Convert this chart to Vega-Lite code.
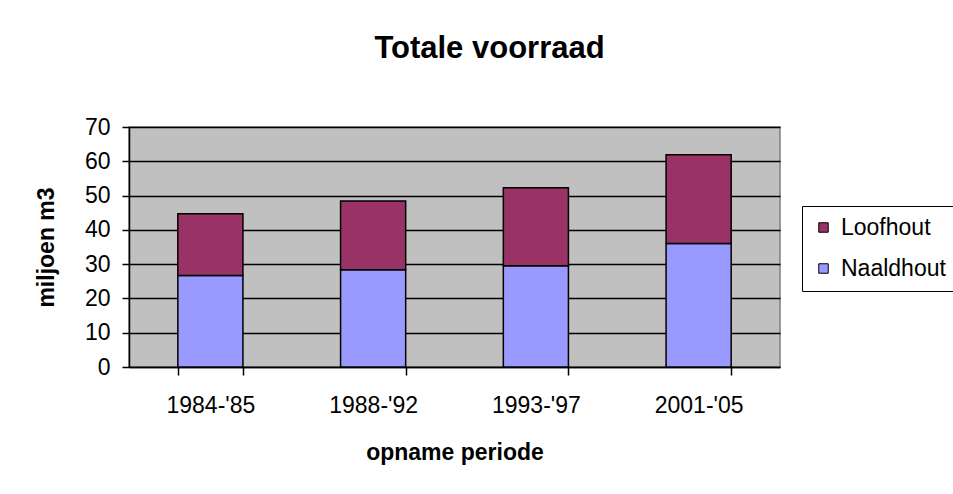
{
  "$schema": "https://vega.github.io/schema/vega-lite/v6.json",
  "autosize": "none",
  "width": 651,
  "height": 240,
  "padding": {"left": 129, "top": 127, "right": 173, "bottom": 127},
  "background": "white",
  "title": {
    "text": "Totale voorraad",
    "font": "Liberation Sans",
    "fontSize": 31,
    "fontWeight": "bold",
    "color": "black",
    "anchor": "middle",
    "frame": "group",
    "dx": 35,
    "offset": 51
  },
  "data": {
    "values": [
      {"periode": "1984-'85", "soort": "Naaldhout", "waarde": 26.7},
      {"periode": "1984-'85", "soort": "Loofhout", "waarde": 18.0},
      {"periode": "1988-'92", "soort": "Naaldhout", "waarde": 28.4},
      {"periode": "1988-'92", "soort": "Loofhout", "waarde": 20.0},
      {"periode": "1993-'97", "soort": "Naaldhout", "waarde": 29.5},
      {"periode": "1993-'97", "soort": "Loofhout", "waarde": 22.8},
      {"periode": "2001-'05", "soort": "Naaldhout", "waarde": 36.0},
      {"periode": "2001-'05", "soort": "Loofhout", "waarde": 25.9}
    ]
  },
  "mark": {"type": "bar", "stroke": "black", "strokeWidth": 1.5},
  "encoding": {
    "x": {
      "field": "periode",
      "type": "nominal",
      "sort": null,
      "scale": {"paddingInner": 0.6, "paddingOuter": 0.3},
      "axis": {
        "title": "opname periode",
        "labelAngle": 0,
        "tickBand": "extent",
        "tickSize": 8,
        "tickColor": "black",
        "tickWidth": 1.5,
        "domainColor": "black",
        "domainWidth": 1.5,
        "labelFont": "Liberation Sans",
        "labelFontSize": 23,
        "labelColor": "black",
        "labelPadding": 19,
        "titleFont": "Liberation Sans",
        "titleFontSize": 23,
        "titleFontWeight": "bold",
        "titleColor": "black",
        "titlePadding": 24
      }
    },
    "y": {
      "field": "waarde",
      "type": "quantitative",
      "aggregate": "sum",
      "stack": "zero",
      "scale": {"domain": [0, 70], "nice": false},
      "axis": {
        "title": "miljoen m3",
        "values": [0, 10, 20, 30, 40, 50, 60, 70],
        "grid": true,
        "gridColor": "black",
        "gridWidth": 1.5,
        "gridOpacity": 1,
        "tickSize": 7,
        "tickColor": "black",
        "tickWidth": 1.5,
        "domainColor": "black",
        "domainWidth": 1.5,
        "labelFont": "Liberation Sans",
        "labelFontSize": 23,
        "labelColor": "black",
        "labelPadding": 12,
        "titleFont": "Liberation Sans",
        "titleFontSize": 23,
        "titleFontWeight": "bold",
        "titleColor": "black",
        "titlePadding": 26
      }
    },
    "color": {
      "field": "soort",
      "type": "nominal",
      "scale": {"domain": ["Loofhout", "Naaldhout"], "range": ["#993366", "#9999FF"]},
      "legend": {
        "title": null,
        "orient": "none",
        "legendX": 673,
        "legendY": 79,
        "direction": "vertical",
        "strokeColor": "black",
        "fillColor": "white",
        "padding": 10,
        "symbolType": "square",
        "symbolSize": 90,
        "symbolStrokeColor": "black",
        "symbolStrokeWidth": 1,
        "symbolOpacity": 1,
        "labelFont": "Liberation Sans",
        "labelFontSize": 23,
        "labelColor": "black",
        "labelOffset": 6,
        "rowPadding": 17,
        "labelLimit": 200
      }
    },
    "order": {"field": "soort", "sort": "descending"}
  },
  "config": {
    "view": {"fill": "#C0C0C0", "stroke": "#808080", "strokeWidth": 1.5},
    "axis": {"gridCap": "butt"}
  }
}
